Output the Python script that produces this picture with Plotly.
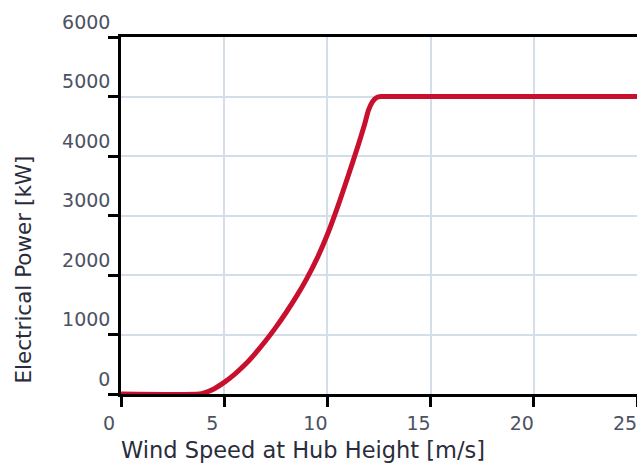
import plotly.graph_objects as go

# Power curve of the turbine: wind speed [m/s] -> electrical power [kW]
wind_speed = [0, 3.8, 4.0, 4.5, 5.0, 5.5, 6.0, 6.5, 7.0, 7.5, 8.0, 8.5, 9.0, 9.5,
              10.0, 10.5, 11.0, 11.5, 11.8, 12.0, 12.2, 12.4, 12.6, 12.8, 25]
power_kw = [0, 0, 15, 85, 195, 330, 490, 680, 890, 1120, 1370, 1640, 1940, 2280,
            2680, 3150, 3660, 4190, 4530, 4780, 4920, 4985, 5000, 5000, 5000]

x_ticks = [0, 5, 10, 15, 20, 25]
y_ticks = [0, 1000, 2000, 3000, 4000, 5000, 6000]

x_title = "Wind Speed at Hub Height [m/s]"
y_title = "Electrical Power [kW]"

W, H = 637, 463
L, R, T, B = 121, 0, 37, 69

tick_font = dict(family="DejaVu Sans", size=19, color="#4d5260")
grid_color = "#d3deea"

fig = go.Figure()
fig.add_trace(go.Scatter(
    x=wind_speed, y=power_kw, mode="lines",
    line=dict(color="#c8102e", width=5, shape="spline", smoothing=0.8),
    cliponaxis=False, hoverinfo="skip", showlegend=False,
))

fig.update_xaxes(
    range=[0, 25], tickvals=x_ticks, ticktext=[str(v) for v in x_ticks],
    showgrid=True, gridcolor=grid_color, gridwidth=2,
    showline=True, linecolor="black", linewidth=2.5, mirror=True,
    ticks="outside", ticklen=10, tickwidth=2.5, tickcolor="black",
    tickfont=tick_font, ticklabelshift=-12, ticklabelstandoff=0,
    ticklabeloverflow="allow",
    zeroline=False, layer="below traces",
)
fig.update_yaxes(
    range=[0, 6000], tickvals=y_ticks, ticktext=[str(v) for v in y_ticks],
    showgrid=True, gridcolor=grid_color, gridwidth=2,
    showline=True, linecolor="black", linewidth=2.5,
    ticks="outside", ticklen=10, tickwidth=2.5, tickcolor="black",
    tickfont=tick_font, ticklabelshift=-15, ticklabelstandoff=-6,
    ticklabeloverflow="allow",
    zeroline=False, layer="below traces",
)

plot_w = W - L - R
plot_h = H - T - B

fig.add_annotation(
    text=x_title, xref="paper", yref="paper",
    x=(119 - L) / plot_w, xanchor="left",
    y=-(450 - (H - B)) / plot_h, yanchor="middle",
    showarrow=False,
    font=dict(family="DejaVu Sans", size=22.5, color="#2a2c3a"),
)
fig.add_annotation(
    text=y_title, xref="paper", yref="paper", textangle=-90,
    x=(22.5 - L) / plot_w, xanchor="center",
    y=((H - B) - 386) / plot_h, yanchor="bottom",
    showarrow=False,
    font=dict(family="DejaVu Sans", size=21.5, color="#2a2c3a"),
)

fig.update_layout(
    width=W, height=H,
    margin=dict(l=L, r=R, t=T, b=B, pad=0),
    paper_bgcolor="white", plot_bgcolor="white",
)

fig.write_html("out.html")
